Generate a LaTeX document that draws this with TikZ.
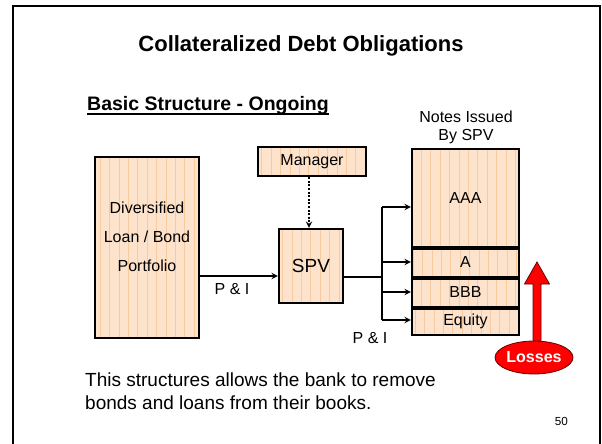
\documentclass[tikz,border=0pt]{standalone}
\usepackage{fontspec}
\setmainfont{Liberation Sans}
\usetikzlibrary{shapes.geometric}
\definecolor{peach}{HTML}{FDE3CC}
\definecolor{peachgrid}{HTML}{F7CB9F}
\definecolor{lossred}{HTML}{FF0000}
\newcommand{\px}[1]{\fontsize{#1}{#1}\selectfont}
\tikzset{
  gridbox/.style={draw,line width=2.2pt,fill=peach,inner sep=0pt,
    path picture={\draw[peachgrid,line width=.6pt] (path picture bounding box.north west) grid[step=9.4] (path picture bounding box.south east);}},
  tranche/.style={gridbox,minimum width=107,font=\px{16}},
  wire/.style={line width=1.8pt},
  flow/.style={wire,-stealth},
}
\begin{document}
\begin{tikzpicture}[x=1pt,y=-1pt]
\useasboundingbox (0,0) rectangle (602,444);
% slide frame
\draw[line width=2.5pt] (13,450) -- (13,6) -- (600,6) -- (600,450);
\node[font=\bfseries\px{22},anchor=base] (title) at (301,52) {Collateralized Debt Obligations};
\node[font=\bfseries\px{19.5},anchor=base west,inner sep=0pt] (sub) at (87,110) {Basic Structure - Ongoing};
\draw[line width=1.6pt] (sub.base west) ++(0,4) -- ([yshift=-4pt]sub.base east);
\node[font=\fontsize{16}{18}\selectfont,align=center] (notes) at (466,127) {Notes Issued\\By SPV};
% boxes
\node[gridbox,minimum width=104,minimum height=181,
  label={[font=\fontsize{16}{29}\selectfont,align=center,yshift=11pt]center:Diversified\\Loan / Bond\\Portfolio}] (port) at (147,247.5) {};
\node[gridbox,minimum width=108,minimum height=29,font=\px{16}] (mgr) at (312,161.5) {Manager};
\node[gridbox,minimum width=64,minimum height=74,font=\px{19}] (spv) at (311,266) {SPV};
\foreach \n/\t/\y/\h in {aaa/AAA/198/98,a/A/262/30,bbb/BBB/292/30,eq/Equity/321/28}
  \node[tranche,minimum height=\h] (\n) at (465.5,\y) {\t};
\foreach \n in {aaa,a,bbb} \draw[line width=3.2pt] (\n.south west) -- (\n.south east);
% cash flows
\draw[flow] (port.east |- 0,276) -- (spv.west |- 0,276);
\node[font=\px{16}] (pi1) at (232,289) {P \& I};
\draw[flow,dash pattern=on 2pt off 1.6pt] (mgr.south -| 309,0) -- (spv.north -| 309,0);
\coordinate (bus) at (382,277);
\draw[wire] (spv.east |- bus) -- (bus);
\draw[wire] (bus |- 0,207) -- (bus |- 0,320);
\foreach \n/\y in {aaa/207,a/262,bbb/292,eq/320} \draw[flow] (bus |- 0,\y) -- (\n.west |- 0,\y);
\node[font=\px{16}] (pi2) at (370,338) {P \& I};
% losses
\draw[fill=lossred,draw=black!60!red,line width=.8pt] (537,262) -- (549.5,284) -- (541,284) -- (541,345) -- (533,345) -- (533,284) -- (524.5,284) -- cycle;
\node[ellipse,draw=black!60!red,line width=.8pt,fill=lossred,text=white,font=\bfseries\px{16},
  minimum width=78,minimum height=33,inner sep=0pt] (loss) at (534,357.5) {Losses};
\node[anchor=north west,align=left,font=\fontsize{19}{23}\selectfont,inner sep=0pt] (note) at (85,373) {This structures allows the bank to remove\\bonds and loans from their books.};
\node[font=\px{11.7},anchor=base east,inner sep=0pt] (pg) at (568,425) {50};
\end{tikzpicture}
\end{document}
